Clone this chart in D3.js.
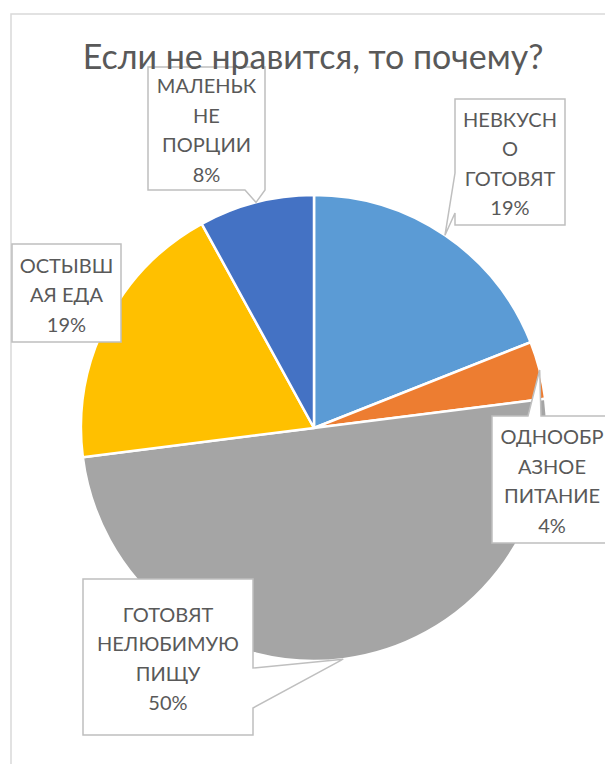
<!DOCTYPE html>
<html>
<head>
<meta charset="utf-8">
<script src="https://cdn.jsdelivr.net/npm/d3@7"></script>
<style>
  html, body { margin: 0; padding: 0; background: #fff; overflow: hidden; }
  text { font-family: Lato, "Open Sans", sans-serif; fill: #595959; }
</style>
</head>
<body>
<div id="chart"></div>
<script>
// data
const title = "Если не нравится, то почему?";
const categories = ["НЕВКУСНО ГОТОВЯТ", "ОДНООБРАЗНОЕ ПИТАНИЕ", "ГОТОВЯТ НЕЛЮБИМУЮ ПИЩУ", "ОСТЫВШАЯ ЕДА", "МАЛЕНЬКНЕ ПОРЦИИ"];
const values = [19, 4, 50, 19, 8];
const labelLines = [
  ["НЕВКУСН", "О", "ГОТОВЯТ"],
  ["ОДНООБР", "АЗНОЕ", "ПИТАНИЕ"],
  ["ГОТОВЯТ", "НЕЛЮБИМУЮ", "ПИЩУ"],
  ["ОСТЫВШ", "АЯ ЕДА"],
  ["МАЛЕНЬК", "НЕ", "ПОРЦИИ"]
];
const colors = ["#5B9BD5", "#ED7D31", "#A5A5A5", "#FFC000", "#4472C4"];

// callout boxes (placed by hand like in the original)
const boxes = [
  {x0: 455, y0: 99, x1: 565, y1: 225, side: "left", base: [173, 213]},
  {x0: 492, y0: 416, x1: 612, y1: 543, side: "top", base: [528, 541]},
  {x0: 83, y0: 579, x1: 253, y1: 735, side: "right", base: [668, 708]},
  {x0: 12, y0: 244, x1: 121, y1: 342, side: null},
  {x0: 148, y0: 67, x1: 265, y1: 190, side: "bottom", base: [245, 265]}
];

const W = 605, H = 764;
const cx = 314, cy = 428, r = 233;

const svg = d3.select("#chart").append("svg")
    .attr("width", W).attr("height", H);

// chart area border
svg.append("rect")
    .attr("x", 11).attr("y", 14)
    .attr("width", 800).attr("height", 900)
    .attr("fill", "#fff")
    .attr("stroke", "#D9D9D9")
    .attr("stroke-width", 1.5);

// fit font size of a string to a target width
function fitSize(str, target, base) {
  const t = svg.append("text").style("font-size", base + "px").text(str);
  const w = t.node().getComputedTextLength();
  t.remove();
  return base * target / w;
}
const titleSize = fitSize(title, 461, 30);
const labelSize = fitSize("НЕЛЮБИМУЮ", 142, 18);

const pie = d3.pie().sort(null).value(d => d)(values);
const arc = d3.arc().innerRadius(0).outerRadius(r);
const edge = d3.arc().innerRadius(r).outerRadius(r);

const g = svg.append("g").attr("transform", `translate(${cx},${cy})`);
g.selectAll("path")
    .data(pie)
    .enter()
    .append("path")
    .attr("d", arc)
    .attr("fill", (d, i) => colors[i])
    .attr("stroke", "#fff")
    .attr("stroke-width", 2.5)
    .attr("stroke-linejoin", "round");

const total = d3.sum(values);
const pct = d3.format(".0%");

// build the callout outline: box + wedge pointing to the slice edge
function callout(b, tip) {
  const p = [[b.x0, b.y0]];
  if (b.side === "top") p.push([b.base[0], b.y0], tip, [b.base[1], b.y0]);
  p.push([b.x1, b.y0]);
  if (b.side === "right") p.push([b.x1, b.base[0]], tip, [b.x1, b.base[1]]);
  p.push([b.x1, b.y1]);
  if (b.side === "bottom") p.push([b.base[1], b.y1], tip, [b.base[0], b.y1]);
  p.push([b.x0, b.y1]);
  if (b.side === "left") p.push([b.x0, b.base[1]], tip, [b.x0, b.base[0]]);
  return "M" + p.map(q => q.join(",")).join("L") + "Z";
}

const lineGap = 29.5;
pie.forEach((d, i) => {
  const b = boxes[i];
  const c = edge.centroid(d);
  const tip = [cx + c[0], cy + c[1]];
  svg.append("path")
      .attr("d", callout(b, tip))
      .attr("fill", "#fff")
      .attr("stroke", "#BFBFBF")
      .attr("stroke-width", 1.5)
      .attr("stroke-linejoin", "miter");

  const lines = labelLines[i].concat([pct(values[i] / total)]);
  const mid = (b.y0 + b.y1) / 2 + 2;
  const top = mid - (lines.length - 1) * lineGap / 2;
  const t = svg.append("text")
      .attr("text-anchor", "middle")
      .style("font-size", labelSize + "px");
  lines.forEach((s, k) => {
    t.append("tspan")
        .attr("x", (b.x0 + b.x1) / 2)
        .attr("y", top + k * lineGap)
        .attr("dy", "0.35em")
        .text(s);
  });
});

svg.append("text")
    .attr("x", 313).attr("y", 69)
    .attr("text-anchor", "middle")
    .style("font-size", titleSize + "px")
    .text(title);
</script>
</body>
</html>
